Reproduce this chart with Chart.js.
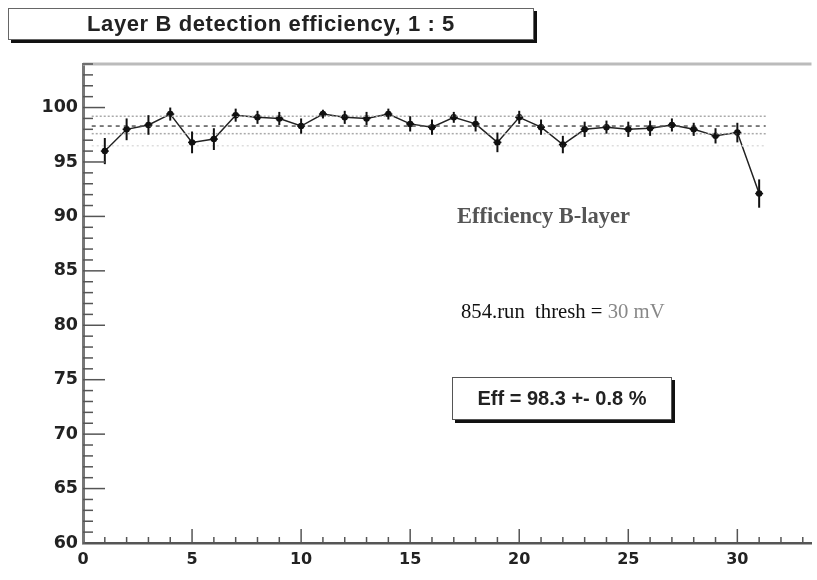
<!DOCTYPE html>
<html>
<head>
<meta charset="utf-8">
<script src="https://cdn.jsdelivr.net/npm/chart.js@4.4.0/dist/chart.umd.min.js"></script>
<style>
  body { margin: 0; background: #fff; }
  #wrap { position: relative; width: 817px; height: 580px; }
  #title {
    position: absolute; left: 8px; top: 8px; width: 524px; height: 30px;
    border: 1px solid #666; box-shadow: 3px 3px 0 #111;
    font: bold 22px "Liberation Sans", Arial, sans-serif; color: #222; letter-spacing: 0.6px;
    text-align: center; line-height: 30px; background: #fff;
  }
  .note { position: absolute; white-space: pre; font-family: "Liberation Serif", "Times New Roman", serif; }
  #effbox {
    position: absolute; left: 452px; top: 377px; width: 218px; height: 41px;
    border: 1px solid #555; box-shadow: 3px 3px 0 #111; background: #fff;
    font: bold 20px "Liberation Sans", Arial, sans-serif; color: #222;
    text-align: center; line-height: 41px;
  }
</style>
</head>
<body>
<div id="wrap">
  <canvas id="chart" width="817" height="580"></canvas>
  <div id="title">Layer B detection efficiency, 1 : 5</div>
  <div class="note" style="left:457px; top:203px; font-size:22.5px; font-weight:bold; color:#555;">Efficiency B-layer</div>
  <div class="note" style="left:461px; top:300px; font-size:20.7px; color:#111;">854.run  thresh = <span style="color:#888">30 mV</span></div>
  <div id="effbox">Eff = 98.3 +- 0.8 %</div>
</div>
<script>
// channel number vs efficiency (%)
const channels = [1, 2, 3, 4, 5, 6, 7, 8, 9, 10, 11, 12, 13, 14, 15, 16,
                  17, 18, 19, 20, 21, 22, 23, 24, 25, 26, 27, 28, 29, 30, 31];
const efficiency = [96.0, 98.0, 98.4, 99.4, 96.8, 97.1, 99.3, 99.1, 99.0, 98.3, 99.4, 99.1, 99.0, 99.4, 98.5, 98.2,
                    99.1, 98.5, 96.8, 99.1, 98.2, 96.6, 98.0, 98.2, 98.0, 98.1, 98.4, 98.0, 97.4, 97.7, 92.1];
const errors = [1.2, 1.0, 0.9, 0.6, 1.0, 1.0, 0.6, 0.6, 0.6, 0.7, 0.4, 0.6, 0.6, 0.5, 0.7, 0.7,
                0.5, 0.7, 0.9, 0.6, 0.7, 0.8, 0.7, 0.6, 0.7, 0.7, 0.6, 0.6, 0.7, 0.9, 1.3];
// mean and band levels
const bandLevels = [99.2, 98.3, 97.6, 96.5];
const bandColors = ['#aaa', '#555', '#aaa', '#ddd'];
const bandDash = [[2, 2], [4, 4], [2, 2], [2, 3]];
const bandRange = [0.4, 31.3];
const yTicks = [60, 65, 70, 75, 80, 85, 90, 95, 100];
const xTicks = [0, 5, 10, 15, 20, 25, 30];

const datasets = [];
bandLevels.forEach((v, i) => {
    datasets.push({
        data: bandRange.map(x => ({x: x, y: v})),
        borderColor: bandColors[i],
        borderWidth: 1.5,
        borderDash: bandDash[i],
        pointRadius: 0
    });
});
datasets.push({
    data: channels.map((c, i) => ({x: c, y: efficiency[i]})),
    borderColor: '#222',
    borderWidth: 1.5,
    pointRadius: 2.5,
    pointBackgroundColor: '#111',
    pointBorderColor: '#111'
});

const errBars = {
    id: 'errBars',
    afterDatasetsDraw(chart) {
        const xs = chart.scales.x, ys = chart.scales.y, ctx = chart.ctx;
        ctx.save();
        ctx.strokeStyle = '#111';
        channels.forEach((c, i) => {
            const px = xs.getPixelForValue(c);
            const py = ys.getPixelForValue(efficiency[i]);
            ctx.lineWidth = 2;
            ctx.beginPath();
            ctx.moveTo(px, ys.getPixelForValue(efficiency[i] + errors[i]));
            ctx.lineTo(px, ys.getPixelForValue(efficiency[i] - errors[i]));
            ctx.stroke();
            ctx.lineWidth = 1.5;
            ctx.beginPath();
            ctx.moveTo(px - 4, py);
            ctx.lineTo(px + 4, py);
            ctx.stroke();
        });
        ctx.restore();
    }
};

// tick marks drawn inside the frame, ROOT style
const innerTicks = {
    id: 'innerTicks',
    afterDraw(chart) {
        const xs = chart.scales.x, ys = chart.scales.y, ctx = chart.ctx;
        const a = chart.chartArea;
        ctx.save();
        ctx.strokeStyle = '#bbb';
        ctx.lineWidth = 3;
        ctx.beginPath();
        ctx.moveTo(a.left, a.top);
        ctx.lineTo(a.right, a.top);
        ctx.stroke();
        ctx.strokeStyle = '#555';
        ctx.lineWidth = 1.5;
        for (let v = Math.ceil(ys.min); v <= Math.floor(ys.max); v++) {
            const py = ys.getPixelForValue(v);
            const len = v % 5 === 0 ? 22 : 10;
            ctx.beginPath();
            ctx.moveTo(a.left, py);
            ctx.lineTo(a.left + len, py);
            ctx.stroke();
        }
        for (let v = Math.ceil(xs.min) + 1; v <= Math.floor(xs.max); v++) {
            const px = xs.getPixelForValue(v);
            const len = v % 5 === 0 ? 14 : 6;
            ctx.beginPath();
            ctx.moveTo(px, a.bottom);
            ctx.lineTo(px, a.bottom - len);
            ctx.stroke();
        }
        ctx.restore();
    }
};

new Chart(document.getElementById('chart').getContext('2d'), {
    type: 'line',
    data: { datasets: datasets },
    options: {
        responsive: false,
        animation: false,
        layout: { padding: { left: 0, top: 64, right: 5, bottom: 0 } },
        plugins: { legend: { display: false }, tooltip: { enabled: false } },
        scales: {
            x: {
                type: 'linear', min: 0, max: 33.4,
                afterFit(s) { s.height = 37; },
                afterBuildTicks(s) { s.ticks = xTicks.map(v => ({value: v})); },
                grid: { display: false, drawTicks: false },
                border: { display: true, color: '#555', width: 2.5 },
                ticks: { padding: 7, color: '#222', font: { family: 'DejaVu Sans', weight: 'bold', size: 16 } }
            },
            y: {
                min: 60, max: 104,
                afterFit(s) { s.width = 83; },
                afterBuildTicks(s) { s.ticks = yTicks.map(v => ({value: v})); },
                grid: { display: false, drawTicks: false },
                border: { display: true, color: '#777', width: 3 },
                ticks: { padding: 5, color: '#222', font: { family: 'DejaVu Sans', weight: 'bold', size: 17.5 } }
            }
        }
    },
    plugins: [errBars, innerTicks]
});
</script>
</body>
</html>
